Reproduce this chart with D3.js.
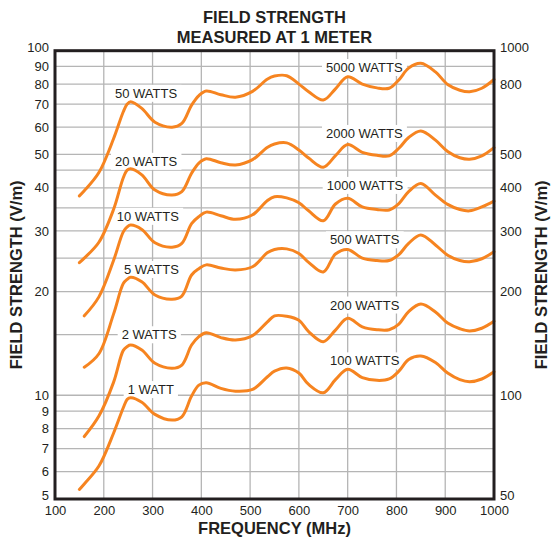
<!DOCTYPE html>
<html>
<head>
<meta charset="utf-8">
<script src="https://cdn.jsdelivr.net/npm/d3@7"></script>
<style>
  html, body { margin: 0; padding: 0; background: #fff; }
  svg { display: block; font-family: "Liberation Sans", Arial, Helvetica, sans-serif; }
</style>
</head>
<body>
<svg id="chart" width="552" height="539"></svg>
<script>
// ---------- data ----------
const frequency = [150,160,190,220,240,248,255,278,305,340,360,380,395,410,440,470,505,535,550,575,600,620,650,675,700,730,760,785,805,825,850,880,905,930,950,975,1000];

const curve1  = [5.33, 5.53, 6.23, 7.76, 9.2, 9.73, 9.84, 9.55, 8.8, 8.47, 8.66, 9.95, 10.7, 10.88, 10.47, 10.28, 10.4, 11.3, 11.75, 12.0, 11.6, 10.75, 10.17, 11.1, 11.9, 11.25, 11.05, 11.15, 11.75, 12.7, 13.0, 12.45, 11.6, 11.1, 10.95, 11.15, 11.7];
const curve2  = [null, 7.59, 8.7, 10.9, 13.5, 13.85, 13.99, 13.53, 12.38, 11.98, 12.24, 13.99, 14.8, 15.19, 14.7, 14.47, 14.9, 16.3, 17.0, 16.95, 16.5, 15.3, 14.31, 15.46, 16.72, 15.8, 15.5, 15.5, 16.1, 17.5, 18.4, 17.45, 16.2, 15.6, 15.37, 15.65, 16.4];
const curve5  = [null, 12.06, 13.2, 17.2, 21.1, 21.7, 22.0, 21.35, 19.54, 19.0, 19.41, 22.34, 23.3, 23.9, 23.4, 23.1, 23.6, 25.9, 26.5, 26.6, 25.8, 24.3, 22.8, 25.7, 26.5, 25.0, 24.6, 24.6, 25.6, 27.6, 29.2, 27.3, 25.5, 24.6, 24.4, 24.9, 26.1];
const curve10 = [null, 17.0, 19.3, 24.6, 29.8, 30.8, 31.2, 30.3, 27.7, 26.9, 27.6, 31.5, 33.0, 34.0, 33.2, 32.4, 33.4, 36.7, 37.7, 37.4, 36.2, 34.3, 32.1, 35.9, 37.3, 35.2, 34.6, 34.5, 36.0, 39.0, 41.2, 38.1, 35.8, 34.6, 34.3, 35.2, 36.6];
const curve20 = [24.25, 25.0, 27.8, 34.6, 42.8, 45.0, 45.4, 43.6, 39.4, 38.1, 39.0, 44.1, 47.2, 48.6, 47.3, 46.6, 48.3, 52.4, 53.6, 54.0, 51.5, 48.8, 45.9, 49.6, 53.4, 50.7, 49.7, 49.5, 52.1, 56.0, 58.5, 55.0, 51.0, 48.9, 48.4, 49.5, 52.3];
const curve50 = [37.9, 39.2, 44.3, 55.5, 66.5, 70.0, 71.1, 68.0, 62.0, 60.0, 61.5, 69.5, 74.1, 76.4, 74.5, 73.3, 76.2, 82.6, 84.4, 84.6, 80.0, 76.0, 71.9, 77.5, 84.0, 80.0, 78.0, 77.8, 82.3, 89.0, 91.9, 86.8, 79.8, 76.8, 76.0, 77.8, 82.5];

const seriesValues = [curve1, curve2, curve5, curve10, curve20, curve50];

const leftLabels  = ["1 WATT", "2 WATTS", "5 WATTS", "10 WATTS", "20 WATTS", "50 WATTS"];
const leftLabelFreq  = [249, 236.7, 241.5, 226.5, 223, 223];
const leftLabelValue = [10.4, 15.0, 23.2, 33.1, 47.8, 75.3];

const rightLabels = ["100 WATTS", "200 WATTS", "500 WATTS", "1000 WATTS", "2000 WATTS", "5000 WATTS"];
const rightLabelFreq  = [663.8, 663.8, 663.8, 657, 655.6, 655.6];
const rightLabelValue = [126, 183, 283, 407, 576, 895];   // right-axis units

const xTicks = [100,200,300,400,500,600,700,800,900,1000];
const yTicksLeft  = [5,6,7,8,9,10,20,30,40,50,60,70,80,90,100];
const yTicksRight = [50,100,200,300,400,500,800,1000];
const yGrid = [5,6,7,8,9,10,15,20,25,30,35,40,45,50,60,70,80,90,100];

const titleLines = ["FIELD STRENGTH", "MEASURED AT 1 METER"];
const xTitle = "FREQUENCY (MHz)";
const yTitle = "FIELD STRENGTH (V/m)";

// ---------- layout ----------
const svg = d3.select("#chart");
const L = 55, R = 494, T = 50.7, B = 499;
const ink = "#231f20";
const orange = "#f68420";
const font = "\"Liberation Sans\", Arial, Helvetica, sans-serif";

const x = d3.scaleLinear().domain([100, 1000]).range([L, R]);
const y = d3.scaleLog().domain([5, 100]).range([B, T]);
const y2 = d3.scaleLog().domain([50, 1000]).range([B, T]);

// grid
const grid = svg.append("g");
grid.selectAll("line.v").data(xTicks).join("line").attr("class", "v")
  .attr("x1", d => x(d)).attr("x2", d => x(d))
  .attr("y1", T).attr("y2", B)
  .attr("stroke", "#b5b5b5").attr("stroke-width", 1.3);
grid.selectAll("line.h").data(yGrid).join("line").attr("class", "h")
  .attr("x1", L).attr("x2", R)
  .attr("y1", d => y(d)).attr("y2", d => y(d))
  .attr("stroke", "#b5b5b5").attr("stroke-width", 1.3);

// label data
const labelData = leftLabels.map((t, i) => ({t, px: x(leftLabelFreq[i]), py: y(leftLabelValue[i])}))
  .concat(rightLabels.map((t, i) => ({t, px: x(rightLabelFreq[i]), py: y2(rightLabelValue[i])})));

const rectG = svg.append("g");
const curveG = svg.append("g");
const textG = svg.append("g");

const texts = textG.selectAll("text").data(labelData).join("text")
  .attr("x", d => d.px).attr("y", d => d.py)
  .attr("dy", "0.36em")
  .attr("font-size", 13).attr("fill", ink)
  .text(d => d.t);
texts.each(function(d) {
  const bb = this.getBBox();
  rectG.append("rect")
    .attr("x", bb.x - 4).attr("y", bb.y - 1)
    .attr("width", bb.width + 8).attr("height", bb.height + 2)
    .attr("fill", "#fff");
});

// curves
const line = d3.line()
  .defined(d => d[1] != null)
  .x(d => x(d[0]))
  .y(d => y(d[1]))
  .curve(d3.curveCatmullRom.alpha(0.5));

curveG.selectAll("path").data(seriesValues).join("path")
  .attr("d", vals => line(frequency.map((f, i) => [f, vals[i]])))
  .attr("fill", "none")
  .attr("stroke", orange)
  .attr("stroke-width", 3)
  .attr("stroke-linecap", "round")
  .attr("stroke-linejoin", "round");

// frame
svg.append("rect")
  .attr("x", L).attr("y", T).attr("width", R - L).attr("height", B - T)
  .attr("fill", "none").attr("stroke", ink).attr("stroke-width", 3);

// axes (labels only)
const axL = d3.axisLeft(y).tickValues(yTicksLeft).tickFormat(d3.format("d")).tickSize(0).tickPadding(5);
const axR = d3.axisRight(y2).tickValues(yTicksRight).tickFormat(d3.format("d")).tickSize(0).tickPadding(5);
const axB = d3.axisBottom(x).tickValues(xTicks).tickFormat(d3.format("d")).tickSize(0).tickPadding(6);

function styleAxis(g) {
  g.select(".domain").remove();
  g.selectAll("text").attr("font-size", 13).attr("fill", ink).attr("font-family", font);
}
const gL = svg.append("g").attr("transform", `translate(${L - 1},0)`).call(axL).call(styleAxis);
const gR = svg.append("g").attr("transform", `translate(${R + 1},0)`).call(axR).call(styleAxis);
svg.append("g").attr("transform", `translate(0,${B + 1})`).call(axB).call(styleAxis);
gL.selectAll(".tick").filter(d => d === 5 || d === 100).select("text").attr("dy", "0.05em");
gR.selectAll(".tick").filter(d => d === 50 || d === 1000).select("text").attr("dy", "0.05em");

// titles
svg.append("g").selectAll("text").data(titleLines).join("text")
  .attr("x", (L + R) / 2).attr("y", (d, i) => 23 + i * 20)
  .attr("text-anchor", "middle")
  .attr("font-size", 16.5).attr("font-weight", "bold").attr("fill", ink)
  .text(d => d);

svg.append("text")
  .attr("x", (L + R) / 2).attr("y", 534)
  .attr("text-anchor", "middle")
  .attr("font-size", 16.5).attr("font-weight", "bold").attr("fill", ink)
  .text(xTitle);

svg.append("text")
  .attr("transform", `translate(22,${(T + B) / 2}) rotate(-90)`)
  .attr("text-anchor", "middle")
  .attr("font-size", 16.5).attr("font-weight", "bold").attr("fill", ink)
  .text(yTitle);

svg.append("text")
  .attr("transform", `translate(547,${(T + B) / 2}) rotate(-90)`)
  .attr("text-anchor", "middle")
  .attr("font-size", 16.5).attr("font-weight", "bold").attr("fill", ink)
  .text(yTitle);
</script>
</body>
</html>
